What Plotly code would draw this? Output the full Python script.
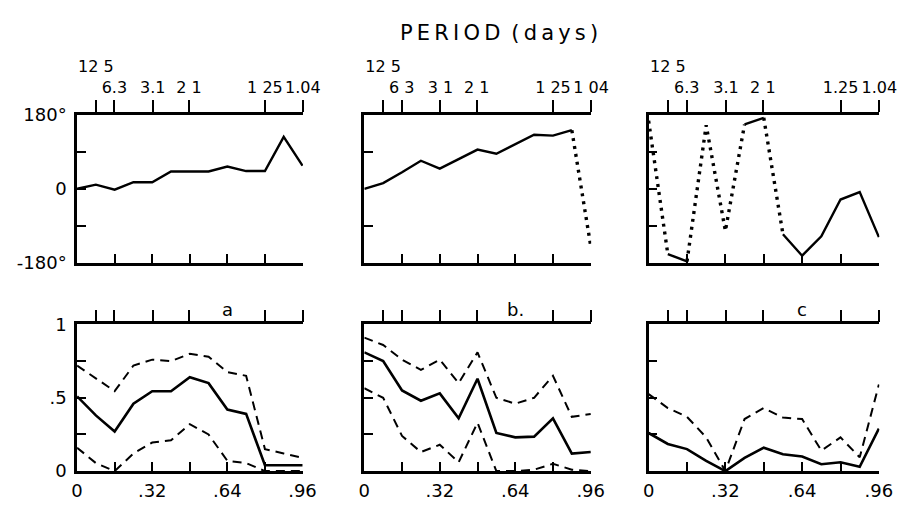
import plotly.graph_objects as go

# ---------------- data ----------------
freq = [0.0, 0.08, 0.16, 0.24, 0.32, 0.40, 0.48, 0.56, 0.64, 0.72, 0.80, 0.88, 0.96]

period_days = [12.5, 6.3, 3.1, 2.1, 1.25, 1.04]
period_text_a = ["6.3", "3.1", "2 1", "1 25", "1.04"]
period_text_b = ["6 3", "3 1", "2 1", "1 25", "1 04"]
period_text_c = ["6.3", "3.1", "2 1", "1.25", "1.04"]
first_period_text = "12 5"

phase_a = [0, 10, -2, 16, 16, 42, 42, 42, 54, 43, 43, 126, 56]
phase_b = [0, 14, 40, 68, 49, 72, 95, 85, 109, 131, 129, 142, -138]
phase_c = [165, -158, -176, 154, -102, 156, 172, -110, -162, -115, -26, -8, -117]

# line style of each interval between consecutive points (solid / dotted wrap)
seg_a = ["solid"] * 12
seg_b = ["solid"] * 11 + ["dot"]
seg_c = ["dot", "solid", "dot", "dot", "dot", "solid", "dot",
         "solid", "solid", "solid", "solid", "solid"]

coh_a = [0.51, 0.38, 0.27, 0.46, 0.545, 0.545, 0.64, 0.60, 0.42, 0.39, 0.04, 0.04, 0.04]
upper_a = [0.72, 0.63, 0.545, 0.72, 0.76, 0.75, 0.80, 0.78, 0.675, 0.65, 0.15, 0.12, 0.09]
lower_a = [0.16, 0.055, 0.0, 0.12, 0.195, 0.21, 0.32, 0.25, 0.07, 0.055, 0.0, 0.0, 0.0]

coh_b = [0.81, 0.75, 0.55, 0.48, 0.53, 0.36, 0.63, 0.26, 0.23, 0.235, 0.36, 0.12, 0.13]
upper_b = [0.91, 0.86, 0.76, 0.69, 0.76, 0.60, 0.81, 0.50, 0.46, 0.50, 0.65, 0.37, 0.39]
lower_b = [0.565, 0.50, 0.24, 0.13, 0.18, 0.06, 0.33, 0.0, 0.0, 0.01, 0.05, 0.01, 0.0]

coh_c = [0.26, 0.185, 0.15, 0.07, 0.0, 0.09, 0.16, 0.115, 0.10, 0.047, 0.06, 0.03, 0.29]
upper_c = [0.525, 0.43, 0.37, 0.23, 0.0, 0.355, 0.43, 0.365, 0.355, 0.14, 0.23, 0.094, 0.59]

panel_letters = ["a", "b.", "c"]

# ---------------- layout helpers ----------------
FONT = "DejaVu Sans"
BLACK = "black"
W, H = 911, 507

col_px = [(73, 305), (368, 601), (660, 897)]
top_row_px = (108, 263)
bot_row_px = (327, 480)


def xdom(c):
    return [col_px[c][0] / W, col_px[c][1] / W]


def ydom(r):
    return [1 - r[1] / H, 1 - r[0] / H]


def ax_key(kind, n):
    return f"{kind}axis" if n == 1 else f"{kind}axis{n}"


def ax_ref(kind, n):
    return kind if n == 1 else f"{kind}{n}"


fig = go.Figure()
layout = {}

xr = [0, 0.962]
period_freq = [1.0 / p for p in period_days]
bottom_ticks = [0.16, 0.32, 0.48, 0.64, 0.80, 0.96]


def add_anchor_trace(xref, yref):
    # invisible trace so that an overlaying (top) axis gets drawn
    fig.add_trace(go.Scatter(x=xr, y=[None, None], mode="markers",
                             marker=dict(opacity=0), xaxis=xref, yaxis=yref,
                             showlegend=False, hoverinfo="skip"))


def add_segments(xref, yref, x, y, styles):
    i = 0
    n = len(styles)
    while i < n:
        j = i
        while j + 1 < n and styles[j + 1] == styles[i]:
            j += 1
        xs = x[i:j + 2]
        ys = y[i:j + 2]
        if styles[i] == "dot":
            line = dict(color=BLACK, width=3.4, dash="3px,5px")
        else:
            line = dict(color=BLACK, width=2.4)
        fig.add_trace(go.Scatter(x=xs, y=ys, mode="lines", line=line,
                                 xaxis=xref, yaxis=yref, showlegend=False,
                                 hoverinfo="skip", cliponaxis=True))
        i = j + 1


phases = [phase_a, phase_b, phase_c]
segs = [seg_a, seg_b, seg_c]
period_texts = [period_text_a, period_text_b, period_text_c]
cohs = [coh_a, coh_b, coh_c]
uppers = [upper_a, upper_b, upper_c]
lowers = [lower_a, lower_b, None]

tickfont = dict(family=FONT, size=18, color=BLACK)
periodfont = dict(family=FONT, size=16, color=BLACK)

for c in range(3):
    # ---------- top row (phase) ----------
    xn = c + 1
    yn = c + 1
    layout[ax_key("x", xn)] = dict(
        domain=xdom(c), anchor=ax_ref("y", yn), range=xr, autorange=False,
        showline=True, linecolor=BLACK, linewidth=2.5, showgrid=False,
        zeroline=False, tickmode="array", tickvals=bottom_ticks,
        ticktext=[""] * len(bottom_ticks), ticks="inside", ticklen=9,
        tickwidth=2, tickcolor=BLACK, side="bottom")
    if c == 0:
        ytv = [-180, -90, 0, 90, 180]
        ytt = ["-180°", "", "0", "", "180°"]
    elif c == 1:
        ytv = [-90, 90]
        ytt = ["", ""]
    else:
        ytv = [-90, 0, 90]
        ytt = ["", "", ""]
    layout[ax_key("y", yn)] = dict(
        domain=ydom(top_row_px), anchor=ax_ref("x", xn), range=[-180, 180],
        autorange=False, showline=True, linecolor=BLACK, linewidth=2.5,
        showgrid=False, zeroline=False, tickmode="array", tickvals=ytv,
        ticktext=ytt, ticks="inside", ticklen=9, tickwidth=2,
        tickcolor=BLACK, tickfont=tickfont, ticklabelstandoff=4)
    add_segments(ax_ref("x", xn), ax_ref("y", yn), freq, phases[c], segs[c])

    # top axis with period ticks + labels
    tn = 7 + c
    layout[ax_key("x", tn)] = dict(
        overlaying=ax_ref("x", xn), anchor=ax_ref("y", yn), side="top",
        range=xr, autorange=False, showline=True, linecolor=BLACK,
        linewidth=2.5, showgrid=False, zeroline=False, tickmode="array",
        tickvals=period_freq, ticktext=[""] + period_texts[c],
        ticks="outside", ticklen=12, tickwidth=2, tickcolor=BLACK,
        tickfont=periodfont)
    add_anchor_trace(ax_ref("x", tn), ax_ref("y", yn))
    # raised first label (12.5 days)
    fn = 10 + c
    layout[ax_key("x", fn)] = dict(
        overlaying=ax_ref("x", xn), anchor=ax_ref("y", yn), side="top",
        range=xr, autorange=False, showline=False, showgrid=False,
        zeroline=False, tickmode="array", tickvals=[period_freq[0]],
        ticktext=[first_period_text], ticks="", ticklabelstandoff=38,
        tickfont=periodfont)
    add_anchor_trace(ax_ref("x", fn), ax_ref("y", yn))

    # ---------- bottom row (coherence) ----------
    xn = 4 + c
    yn = 4 + c
    layout[ax_key("x", xn)] = dict(
        domain=xdom(c), anchor=ax_ref("y", yn), range=xr, autorange=False,
        showline=True, linecolor=BLACK, linewidth=2.5, showgrid=False,
        zeroline=False, tickmode="array", tickvals=[0] + bottom_ticks,
        ticktext=["0", "", ".32", "", ".64", "", ".96"], ticks="inside",
        ticklen=9, tickwidth=2, tickcolor=BLACK, tickfont=tickfont,
        ticklabelstandoff=2, side="bottom")
    if c == 0:
        ytv = [0, 0.25, 0.5, 0.75, 1]
        ytt = ["0", "", ".5", "", "1"]
    else:
        ytv = [0.25, 0.5, 0.75]
        ytt = ["", "", ""]
    layout[ax_key("y", yn)] = dict(
        domain=ydom(bot_row_px), anchor=ax_ref("x", xn), range=[0, 1],
        autorange=False, showline=True, linecolor=BLACK, linewidth=2.5,
        showgrid=False, zeroline=False, tickmode="array", tickvals=ytv,
        ticktext=ytt, ticks="inside", ticklen=9, tickwidth=2,
        tickcolor=BLACK, tickfont=tickfont, ticklabelstandoff=4)
    tn = 13 + c
    layout[ax_key("x", tn)] = dict(
        overlaying=ax_ref("x", xn), anchor=ax_ref("y", yn), side="top",
        range=xr, autorange=False, showline=True, linecolor=BLACK,
        linewidth=2.5, showgrid=False, zeroline=False, tickmode="array",
        tickvals=period_freq, ticktext=[""] * len(period_freq),
        ticks="outside", ticklen=12, tickwidth=2, tickcolor=BLACK)
    add_anchor_trace(ax_ref("x", tn), ax_ref("y", yn))

    xr_ref = ax_ref("x", xn)
    yr_ref = ax_ref("y", yn)
    fig.add_trace(go.Scatter(x=freq, y=uppers[c], mode="lines",
                             line=dict(color=BLACK, width=2, dash="9px,6px"),
                             xaxis=xr_ref, yaxis=yr_ref, showlegend=False,
                             hoverinfo="skip"))
    if lowers[c] is not None:
        fig.add_trace(go.Scatter(x=freq, y=lowers[c], mode="lines",
                                 line=dict(color=BLACK, width=2, dash="9px,6px"),
                                 xaxis=xr_ref, yaxis=yr_ref, showlegend=False,
                                 hoverinfo="skip"))
    fig.add_trace(go.Scatter(x=freq, y=cohs[c], mode="lines",
                             line=dict(color=BLACK, width=2.6),
                             xaxis=xr_ref, yaxis=yr_ref, showlegend=False,
                             hoverinfo="skip"))

annotations = []
for c in range(3):
    annotations.append(dict(
        text=panel_letters[c], x=0.64, xref=ax_ref("x", 4 + c),
        y=1 - 311 / H, yref="paper", showarrow=False,
        font=dict(family=FONT, size=18, color=BLACK),
        xanchor="center", yanchor="middle"))

annotations.append(dict(
    text="P\u2009E\u2009R\u2009I\u2009O\u2009D\u2009 (\u2009d\u2009a\u2009y\u2009s\u2009)",
    x=506 / W, y=1 - 23 / H, xref="paper", yref="paper", showarrow=False,
    font=dict(family=FONT, size=21, color=BLACK),
    xanchor="center", yanchor="middle"))

fig.update_layout(
    width=W, height=H, autosize=False,
    margin=dict(l=0, r=0, t=0, b=0),
    paper_bgcolor="white", plot_bgcolor="white",
    showlegend=False, annotations=annotations, **layout)

fig.write_html("out.html")
